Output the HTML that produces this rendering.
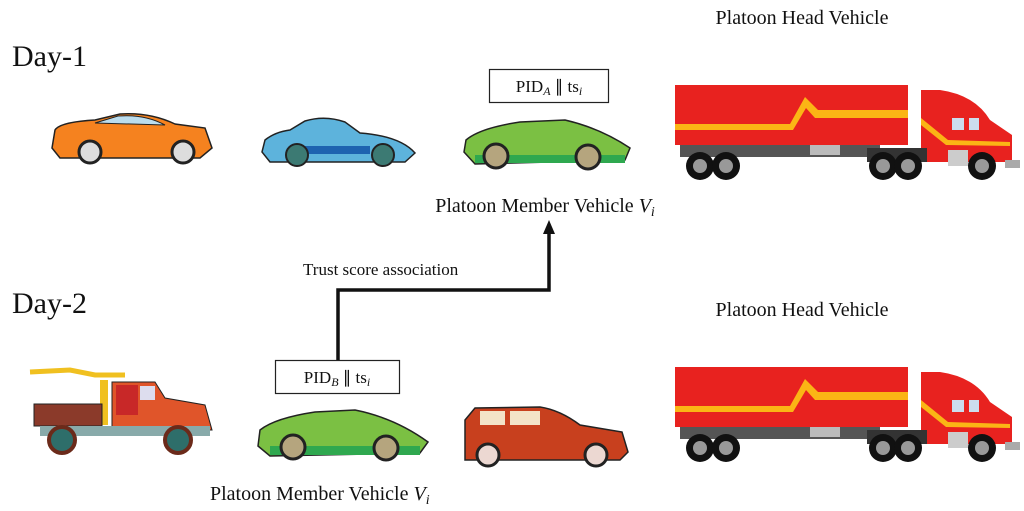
<!DOCTYPE html>
<html><head><meta charset="utf-8"><style>
html,body{margin:0;padding:0;background:#fff;}
svg{display:block;}
text{font-family:"Liberation Serif",serif;fill:#111;}
</style></head><body>
<svg width="1024" height="511" viewBox="0 0 1024 511" xmlns="http://www.w3.org/2000/svg">
<defs>
<g id="truck">
  <!-- trailer -->
  <rect x="675" y="85" width="233" height="60" fill="#e8221f"/>
  <polygon points="675,124 790,124 805,97 818,110 908,110 908,118 815,118 806,108 793,130 675,130" fill="#fbb515"/>
  <rect x="680" y="145" width="200" height="12" fill="#555"/>
  <rect x="810" y="145" width="30" height="10" fill="#bbb"/>
  <!-- cab -->
  <path d="M921,90 L940,90 Q975,95 990,120 L1012,135 L1012,162 L921,162 Z" fill="#e8221f"/>
  <rect x="952" y="118" width="12" height="12" fill="#cde" /><rect x="969" y="118" width="10" height="12" fill="#cde"/>
  <polygon points="921,118 948,140 1010,142 1010,146 946,145 921,125" fill="#fbb515"/>
  <rect x="867" y="148" width="60" height="14" fill="#333"/>
  <rect x="948" y="150" width="20" height="16" fill="#ccc"/>
  <rect x="1005" y="160" width="15" height="8" fill="#aaa"/>
  <g fill="#111"><circle cx="700" cy="166" r="14"/><circle cx="726" cy="166" r="14"/><circle cx="883" cy="166" r="14"/><circle cx="908" cy="166" r="14"/><circle cx="982" cy="166" r="14"/></g>
  <g fill="#999"><circle cx="700" cy="166" r="7"/><circle cx="726" cy="166" r="7"/><circle cx="883" cy="166" r="7"/><circle cx="908" cy="166" r="7"/><circle cx="982" cy="166" r="7"/></g>
</g>
</defs>

<text x="12" y="66" font-size="30">Day-1</text>
<text x="12" y="313" font-size="30">Day-2</text>
<text x="802" y="24" font-size="20" text-anchor="middle">Platoon Head Vehicle</text>
<text x="802" y="316" font-size="20" text-anchor="middle">Platoon Head Vehicle</text>

<use href="#truck"/>
<use href="#truck" transform="translate(0,282)"/>

<!-- orange car -->
<path d="M55,130 Q60,122 95,120 L120,114 Q150,112 175,124 L205,128 L212,148 L200,158 L60,158 L52,148 Z" fill="#f5821f" stroke="#222" stroke-width="1.5"/>
<path d="M95,123 L118,116 Q145,114 165,125 Z" fill="#bde" stroke="#222"/>
<circle cx="90" cy="152" r="11" fill="#ddd" stroke="#222" stroke-width="3"/>
<circle cx="183" cy="152" r="11" fill="#ddd" stroke="#222" stroke-width="3"/>
<!-- blue car -->
<path d="M265,140 Q275,132 290,130 L305,121 Q325,115 345,122 L360,133 Q400,136 415,153 L405,162 L270,162 L262,152 Z" fill="#5db3dc" stroke="#222" stroke-width="1.5"/>
<rect x="290" y="146" width="80" height="8" fill="#1e63b0"/>
<circle cx="297" cy="155" r="11" fill="#3c7a73" stroke="#222" stroke-width="2"/>
<circle cx="383" cy="155" r="11" fill="#3c7a73" stroke="#222" stroke-width="2"/>
<!-- green car 1 -->
<path d="M466,140 Q480,128 520,122 L565,120 Q600,128 630,148 L625,160 L475,164 L464,152 Z" fill="#7bc043" stroke="#222" stroke-width="1.5"/>
<rect x="475" y="155" width="150" height="8" fill="#2fa84f"/>
<circle cx="496" cy="156" r="12" fill="#b5a57e" stroke="#222" stroke-width="3"/>
<circle cx="588" cy="157" r="12" fill="#b5a57e" stroke="#222" stroke-width="3"/>

<!-- PID A box -->
<rect x="489.5" y="69.5" width="119" height="33" fill="#fff" stroke="#222" stroke-width="1.2"/>
<text x="549" y="92" font-size="17" text-anchor="middle">PID<tspan font-size="12" font-style="italic" dy="3">A</tspan><tspan dy="-3"> ∥ ts</tspan><tspan font-size="12" font-style="italic" dy="3">i</tspan></text>

<text x="545" y="212" font-size="20" text-anchor="middle">Platoon Member Vehicle <tspan font-style="italic">V</tspan><tspan font-size="14" font-style="italic" dy="4">i</tspan></text>

<!-- arrow -->
<polyline points="338,360 338,290 549,290 232,232" fill="none" stroke="none"/>
<polyline points="338,360 338,290 549,290 549,232" fill="none" stroke="#111" stroke-width="3.5"/>
<polygon points="549,220 543,234 555,234" fill="#111"/>
<text x="303" y="275" font-size="17">Trust score association</text>

<!-- PID B box -->
<rect x="275.5" y="360.5" width="124" height="33" fill="#fff" stroke="#222" stroke-width="1.2"/>
<text x="337" y="383" font-size="17" text-anchor="middle">PID<tspan font-size="12" font-style="italic" dy="3">B</tspan><tspan dy="-3"> ∥ ts</tspan><tspan font-size="12" font-style="italic" dy="3">i</tspan></text>

<!-- crane truck -->
<polyline points="30,372 70,370 95,375 125,375" fill="none" stroke="#f0c020" stroke-width="5"/>
<rect x="100" y="380" width="8" height="45" fill="#f0c020"/>
<rect x="34" y="404" width="68" height="22" fill="#8b3a2a" stroke="#222"/>
<path d="M112,382 L155,382 L165,398 L205,405 L212,430 L112,430 Z" fill="#e0552a" stroke="#222"/>
<rect x="116" y="385" width="22" height="30" fill="#c82828"/>
<rect x="140" y="386" width="15" height="14" fill="#dde"/>
<rect x="40" y="426" width="170" height="10" fill="#8aa"/>
<circle cx="62" cy="440" r="13" fill="#2e6e6a" stroke="#6b2a1a" stroke-width="4"/>
<circle cx="178" cy="440" r="13" fill="#2e6e6a" stroke="#6b2a1a" stroke-width="4"/>
<!-- green car 2 -->
<path d="M260,430 Q275,418 315,412 L355,410 Q395,418 428,442 L420,453 L270,456 L258,446 Z" fill="#7bc043" stroke="#222" stroke-width="1.5"/>
<rect x="270" y="446" width="150" height="9" fill="#2fa84f"/>
<circle cx="293" cy="447" r="12" fill="#b5a57e" stroke="#222" stroke-width="3"/>
<circle cx="386" cy="448" r="12" fill="#b5a57e" stroke="#222" stroke-width="3"/>
<!-- red car -->
<path d="M465,420 L475,408 L540,407 Q560,410 580,425 L622,432 L628,452 L620,460 L465,460 Z" fill="#c8401e" stroke="#222" stroke-width="1.5"/>
<rect x="480" y="411" width="25" height="14" fill="#f3e3c8"/><rect x="510" y="411" width="30" height="14" fill="#f3e3c8"/>
<circle cx="488" cy="455" r="11" fill="#ecd8d2" stroke="#222" stroke-width="3"/>
<circle cx="596" cy="455" r="11" fill="#ecd8d2" stroke="#222" stroke-width="3"/>

<text x="210" y="500" font-size="20">Platoon Member Vehicle <tspan font-style="italic">V</tspan><tspan font-size="14" font-style="italic" dy="4">i</tspan></text>
</svg>
</body></html>
